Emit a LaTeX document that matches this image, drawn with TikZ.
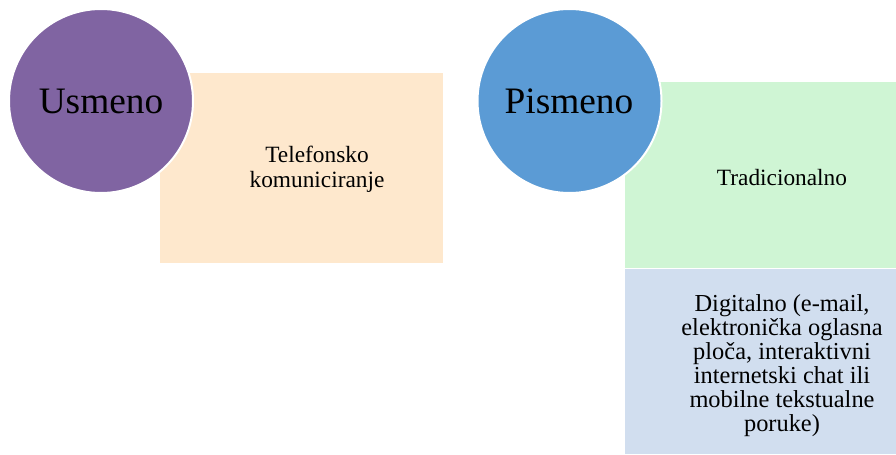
\documentclass[tikz,border=0pt]{standalone}
\usepackage{fontspec}
\setmainfont{Liberation Serif}
\definecolor{usmenoPurple}{HTML}{8064A2}
\definecolor{pismenoBlue}{HTML}{5B9BD5}
\definecolor{telefonPeach}{HTML}{FEE8CD}
\definecolor{tradicGreen}{HTML}{CFF5D4}
\definecolor{digitBlue}{HTML}{D1DEEF}
\tikzset{every picture/.style={line width=0.75pt}}
\tikzset{
  bigtxt/.style={inner sep=0.75pt, font=\fontsize{28}{32}\selectfont},
  smalltxt/.style={inner sep=0.75pt, align=center, font=\fontsize{17.5}{18.5}\selectfont}
}
\begin{document}
\begin{tikzpicture}[x=0.75pt,y=0.75pt,yscale=-1,xscale=1]
\useasboundingbox (0,0) rectangle (896,454);

%Shape: Rectangle [id:telefon]
\draw [fill=telefonPeach, draw=none] (160,73) rectangle (443,263) ;
%Shape: Rectangle [id:tradic]
\draw [fill=tradicGreen, draw=none] (625,82) rectangle (896,268) ;
%Shape: Rectangle [id:digit]
\draw [fill=digitBlue, draw=none] (625,269) rectangle (896,454) ;
%Shape: Circle [id:usmeno]
\draw [fill=usmenoPurple, draw=white, line width=1.5] (101,101) circle [radius=92] ;
%Shape: Circle [id:pismeno]
\draw [fill=pismenoBlue, draw=white, line width=1.5] (569.5,101) circle [radius=92] ;

% Text Node
\node [bigtxt] (usmenoTxt) at (101,101) {Usmeno};
% Text Node
\node [bigtxt] (pismenoTxt) at (569,101) {Pismeno};
% Text Node
\node [smalltxt] (telefonTxt) at (317,169) {Telefonsko\\komuniciranje};
% Text Node
\node [smalltxt] (tradicTxt) at (782,178) {Tradicionalno};
% Text Node
\node [smalltxt, font=\fontsize{18.3}{18}\selectfont] (digitTxt) at (782,366) {Digitalno (e-mail,\\elektronička oglasna\\ploča, interaktivni\\internetski chat ili\\mobilne tekstualne\\poruke)};

\end{tikzpicture}
\end{document}
